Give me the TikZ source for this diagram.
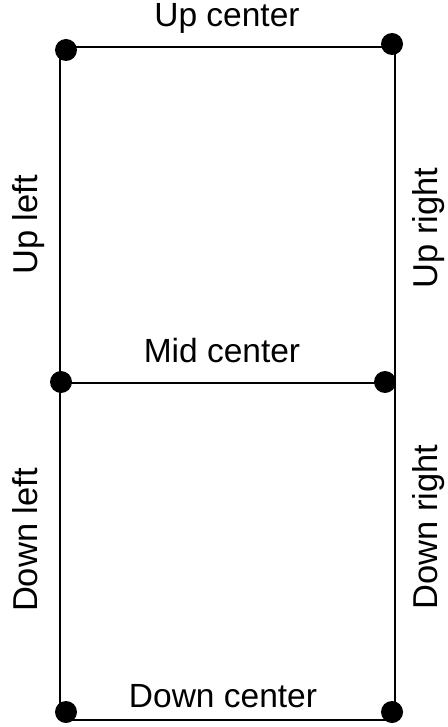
\documentclass[tikz,border=0pt]{standalone}
\usepackage{fontspec}
\setmainfont{Liberation Sans}
\begin{document}
\begin{tikzpicture}[x=1pt,y=-1pt,line width=1.5pt,
  vertex/.style={circle,fill=black,draw=none,inner sep=0pt,minimum size=22pt},
  hlabel/.style={font=\fontsize{33.5}{40}\selectfont,inner sep=0pt,anchor=base},
  vlabel/.style={font=\fontsize{34.5}{41}\selectfont,inner sep=0pt,anchor=base,rotate=90}]
\useasboundingbox (0,0) rectangle (447,727);

% corners of the two stacked boxes
\coordinate (ctl) at (60,47);
\coordinate (ctr) at (395,47);
\coordinate (cml) at (60,383);
\coordinate (cmr) at (395,383);
\coordinate (cbl) at (60,720);
\coordinate (cbr) at (395,720);

% edges
\draw (ctl) -- (ctr);
\draw (cml) -- (cmr);
\draw (cbl) -- (cbr);
\draw (ctl) -- (cbl);
\draw (ctr) -- (cbr);

% vertices
\node[vertex] (tl) at (66,50) {};
\node[vertex] (tr) at (392,44) {};
\node[vertex] (ml) at (61,382) {};
\node[vertex] (mr) at (385,382) {};
\node[vertex] (bl) at (66,712) {};
\node[vertex] (br) at (392,712) {};

% labels
\node[hlabel] (upc) at (227,27) {Up center};
\node[hlabel] (midc) at (222,362) {Mid center};
\node[hlabel] (downc) at (223,707) {Down center};
\node[vlabel] (upl) at (37,225) {Up left};
\node[vlabel] (downl) at (37,540) {Down left};
\node[vlabel] (upr) at (437,228) {Up right};
\node[vlabel] (downr) at (437,527) {Down right};
\end{tikzpicture}
\end{document}
